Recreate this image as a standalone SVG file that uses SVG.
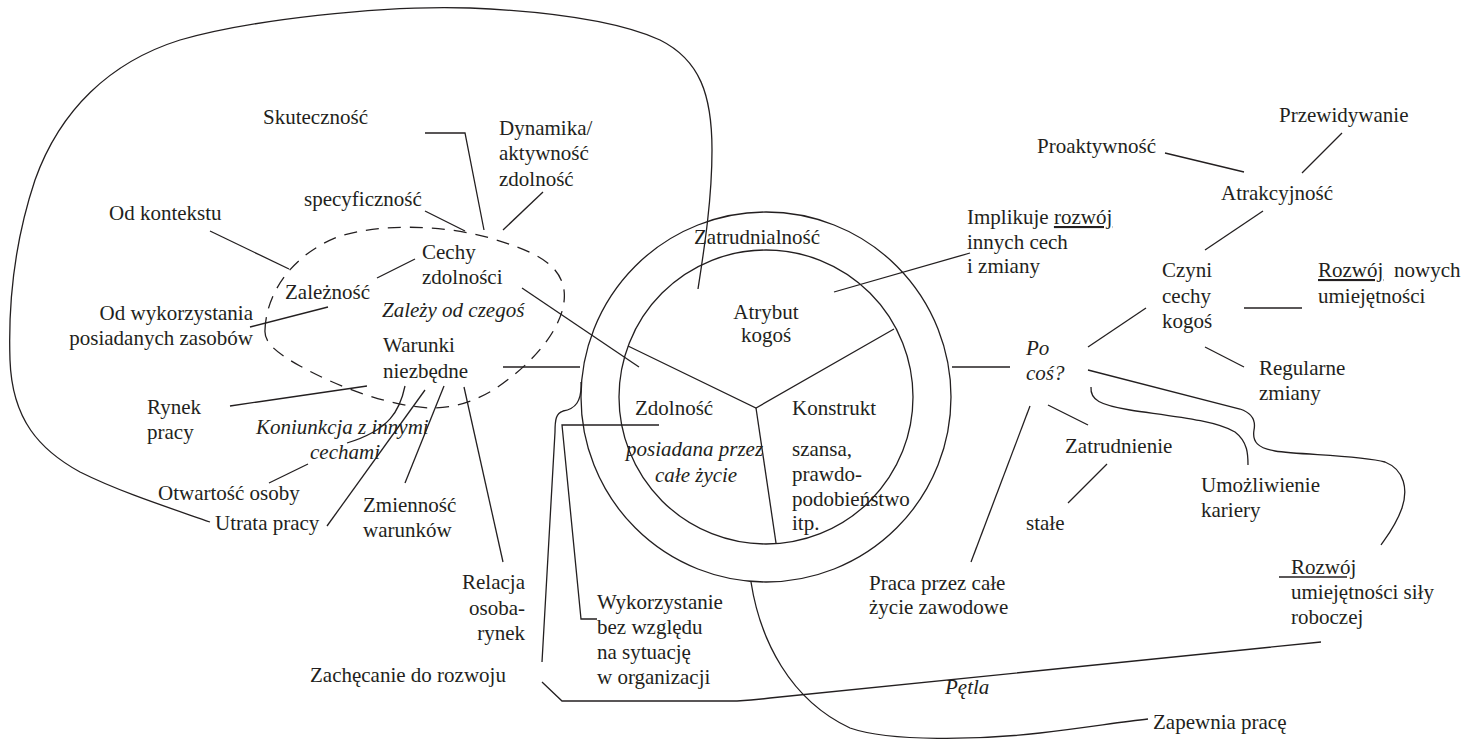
<svg xmlns="http://www.w3.org/2000/svg" width="1467" height="741" viewBox="0 0 1467 741">
<style>
text{font-family:"Liberation Serif","Times New Roman",serif;font-size:21px;fill:#231f20}
.i{font-style:italic}
.e{text-anchor:end}
.m{text-anchor:middle}
.ln{fill:none;stroke:#231f20;stroke-width:1.3}
.d{fill:none;stroke:#231f20;stroke-width:1.3;stroke-dasharray:13 9}
</style>
<rect width="1467" height="741" fill="#fff"/>
<g id="connectors">
<circle class="ln" cx="766" cy="397" r="185"/>
<circle class="ln" cx="766" cy="397" r="147"/>
<polyline class="ln" points="628,346 756,408 894,329"/>
<line class="ln" x1="756" y1="408" x2="776" y2="543"/>
<path class="d" d="M 265 330 C 266 295, 290 255, 340 236 C 380 224, 440 224, 490 238 C 530 250, 560 262, 564 290 C 568 320, 540 355, 510 378 C 485 398, 460 408, 430 408 C 390 406, 340 388, 300 366 C 275 352, 264 342, 265 330 Z"/>
<path class="ln" d="M 698 289 C 704 250, 712 200, 712 150 C 712 95, 700 60, 660 40 C 620 22, 560 12, 470 8 C 380 5, 250 20, 180 40 C 110 62, 60 110, 35 180 C 15 240, 8 300, 10 360 C 12 420, 40 450, 80 472 C 120 492, 170 508, 210 522"/>
<polyline class="ln" points="425,133 465,133 484,230"/>
<line class="ln" x1="543" y1="192" x2="503" y2="230"/>
<line class="ln" x1="425" y1="211" x2="465" y2="231"/>
<line class="ln" x1="210" y1="231" x2="289" y2="269"/>
<line class="ln" x1="377" y1="278" x2="415" y2="259"/>
<line class="ln" x1="250" y1="327" x2="328" y2="307"/>
<line class="ln" x1="522" y1="288" x2="639" y2="367"/>
<line class="ln" x1="503" y1="367" x2="580" y2="367"/>
<line class="ln" x1="230" y1="406" x2="367" y2="386"/>
<path class="ln" d="M 405 386 C 400 410, 390 430, 347 443"/>
<line class="ln" x1="269" y1="483" x2="308" y2="464"/>
<line class="ln" x1="425" y1="390" x2="327" y2="526"/>
<line class="ln" x1="444" y1="386" x2="405" y2="483"/>
<line class="ln" x1="464" y1="387" x2="503" y2="562"/>
<path class="ln" d="M 581 382 C 582 402, 575 409, 563 411 C 556 413, 555 420, 555 432 L 542 662"/>
<polyline class="ln" points="659,425 562,425 581,619 597,619"/>
<path class="ln" d="M 542 682 L 562 701 L 737 701 Q 755 700 770 698 L 1321 642"/>
<path class="ln" d="M 751 582 C 760 640, 790 700, 850 728 C 890 742, 980 740, 1040 733 C 1090 727, 1120 722, 1148 719"/>
<line class="ln" x1="834" y1="292" x2="970" y2="253"/>
<line class="ln" x1="952" y1="367" x2="1010" y2="367"/>
<line class="ln" x1="1165" y1="153" x2="1244" y2="172"/>
<line class="ln" x1="1342" y1="133" x2="1302" y2="173"/>
<line class="ln" x1="1263" y1="211" x2="1205" y2="250"/>
<line class="ln" x1="1244" y1="308" x2="1302" y2="308"/>
<line class="ln" x1="1146" y1="308" x2="1088" y2="347"/>
<line class="ln" x1="1205" y1="347" x2="1244" y2="367"/>
<path class="ln" d="M 1088 370 L 1240 409 C 1252 413, 1256 420, 1254 430 C 1252 442, 1258 448, 1275 451 C 1300 455, 1360 455, 1385 462 C 1405 470, 1408 490, 1402 508 C 1396 525, 1388 535, 1381 545"/>
<path class="ln" d="M 1091 387 C 1090 400, 1100 405, 1130 410 C 1170 416, 1215 420, 1235 432 C 1248 442, 1248 455, 1248 465"/>
<line class="ln" x1="1048" y1="405" x2="1088" y2="425"/>
<line class="ln" x1="1107" y1="464" x2="1068" y2="503"/>
<line class="ln" x1="1030" y1="406" x2="971" y2="562"/>
<line class="ln" x1="1279" y1="577" x2="1347" y2="577"/>
</g>
<g id="skutecznosc"><text x="263" y="124">Skuteczność</text></g>
<g id="dynamika"><text x="499" y="135">Dynamika/</text><text x="499" y="160">aktywność</text><text x="499" y="186">zdolność</text></g>
<g id="specyficznosc"><text x="304" y="206">specyficzność</text></g>
<g id="od-kontekstu"><text x="109" y="220">Od kontekstu</text></g>
<g id="cechy"><text x="422" y="259">Cechy</text><text x="422" y="284">zdolności</text></g>
<g id="zaleznosc"><text x="285" y="299">Zależność</text></g>
<g id="zalezy"><text class="i" x="382" y="317">Zależy od czegoś</text></g>
<g id="od-wykorzystania"><text class="e" x="253" y="320">Od wykorzystania</text><text class="e" x="253" y="345">posiadanych zasobów</text></g>
<g id="warunki"><text x="383" y="352">Warunki</text><text x="383" y="378">niezbędne</text></g>
<g id="rynek"><text x="147" y="414">Rynek</text><text x="147" y="439">pracy</text></g>
<g id="koniunkcja"><text class="i" x="256" y="434">Koniunkcja z innymi</text><text class="i" x="310" y="459">cechami</text></g>
<g id="otwartosc"><text x="158" y="500">Otwartość osoby</text></g>
<g id="utrata"><text x="215" y="530">Utrata pracy</text></g>
<g id="zmiennosc"><text x="363" y="512">Zmienność</text><text x="363" y="537">warunków</text></g>
<g id="relacja"><text class="e" x="525" y="589">Relacja</text><text class="e" x="525" y="615">osoba-</text><text class="e" x="525" y="640">rynek</text></g>
<g id="zachecanie"><text x="310" y="682">Zachęcanie do rozwoju</text></g>
<g id="wykorzystanie"><text x="597" y="609">Wykorzystanie</text><text x="597" y="634">bez względu</text><text x="597" y="659">na sytuację</text><text x="597" y="684">w organizacji</text></g>
<g id="zatrudnialnosc"><text x="694" y="244">Zatrudnialność</text></g>
<g id="atrybut"><text class="m" x="766" y="319">Atrybut</text><text class="m" x="766" y="342">kogoś</text></g>
<g id="zdolnosc"><text x="635" y="415">Zdolność</text><text class="i" x="626" y="456">posiadana przez</text><text class="i" x="655" y="482">całe życie</text></g>
<g id="konstrukt"><text x="792" y="415">Konstrukt</text><text x="792" y="456">szansa,</text><text x="792" y="481">prawdo-</text><text x="792" y="506">podobieństwo</text><text x="792" y="530">itp.</text></g>
<g id="implikuje"><text x="967" y="224">Implikuje <tspan text-decoration="underline">rozwój</tspan></text><text x="967" y="249">innych cech</text><text x="967" y="273">i zmiany</text></g>
<g id="przewidywanie"><text x="1279" y="122">Przewidywanie</text></g>
<g id="proaktywnosc"><text x="1037" y="153">Proaktywność</text></g>
<g id="atrakcyjnosc"><text x="1221" y="200">Atrakcyjność</text></g>
<g id="czyni"><text x="1162" y="277">Czyni</text><text x="1162" y="303">cechy</text><text x="1162" y="328">kogoś</text></g>
<g id="rozwoj-nowych"><text x="1318" y="277"><tspan text-decoration="underline">Rozwój</tspan><tspan x="1394">nowych</tspan></text><text x="1318" y="303">umiejętności</text></g>
<g id="po-cos"><text class="i" x="1026" y="355">Po</text><text class="i" x="1026" y="380">coś?</text></g>
<g id="regularne"><text x="1259" y="375">Regularne</text><text x="1259" y="400">zmiany</text></g>
<g id="zatrudnienie"><text x="1065" y="453">Zatrudnienie</text></g>
<g id="umozliwienie"><text x="1201" y="492">Umożliwienie</text><text x="1201" y="517">kariery</text></g>
<g id="stale"><text x="1026" y="530">stałe</text></g>
<g id="praca"><text x="869" y="590">Praca przez całe</text><text x="869" y="614">życie zawodowe</text></g>
<g id="rozwoj-sily"><text x="1291" y="574">Rozwój</text><text x="1291" y="599">umiejętności siły</text><text x="1291" y="624">roboczej</text></g>
<g id="petla"><text class="i" x="945" y="694">Pętla</text></g>
<g id="zapewnia"><text x="1153" y="729">Zapewnia pracę</text></g>
</svg>
